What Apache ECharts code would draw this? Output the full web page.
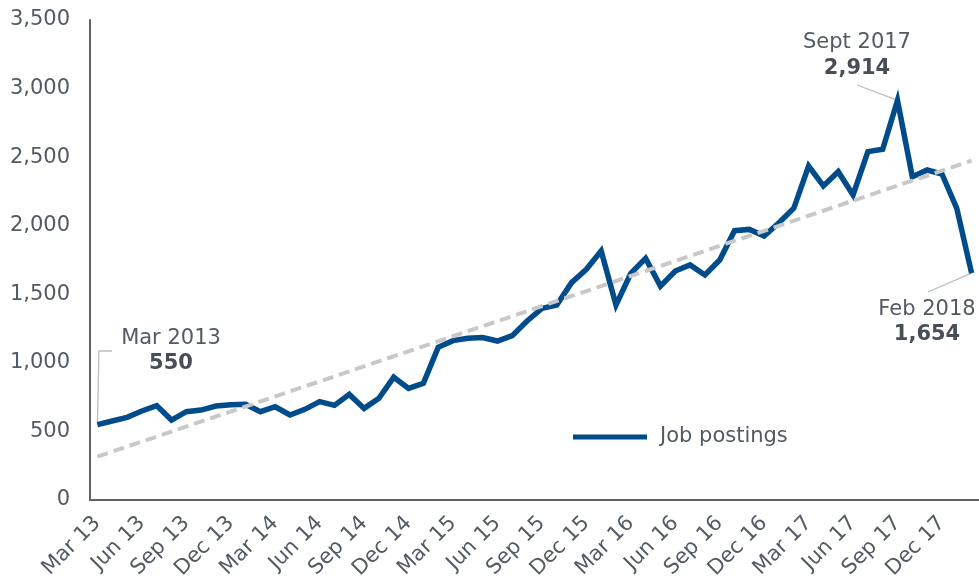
<!DOCTYPE html>
<html><head><meta charset="utf-8">
<script src="https://cdn.jsdelivr.net/npm/echarts@6/dist/echarts.min.js"></script>
<style>html,body{margin:0;padding:0;background:#fff}#c{width:979px;height:584px}</style>
</head><body><div id="c"></div>
<script>
const months = [
 'Mar 13','Apr 13','May 13','Jun 13','Jul 13','Aug 13','Sep 13','Oct 13','Nov 13','Dec 13','Jan 14','Feb 14',
 'Mar 14','Apr 14','May 14','Jun 14','Jul 14','Aug 14','Sep 14','Oct 14','Nov 14','Dec 14','Jan 15','Feb 15',
 'Mar 15','Apr 15','May 15','Jun 15','Jul 15','Aug 15','Sep 15','Oct 15','Nov 15','Dec 15','Jan 16','Feb 16',
 'Mar 16','Apr 16','May 16','Jun 16','Jul 16','Aug 16','Sep 16','Oct 16','Nov 16','Dec 16','Jan 17','Feb 17',
 'Mar 17','Apr 17','May 17','Jun 17','Jul 17','Aug 17','Sep 17','Oct 17','Nov 17','Dec 17','Jan 18','Feb 18'
];
const jobPostings = [
 550, 576, 603, 649, 688, 583, 644, 656, 685, 695, 698, 644,
 680, 620, 661, 717, 690, 770, 668, 741, 895, 814, 851, 1113,
 1162, 1179, 1184, 1159, 1198, 1305, 1397, 1422, 1585, 1682, 1816, 1422,
 1653, 1762, 1560, 1670, 1714, 1641, 1750, 1964, 1973, 1925, 2022, 2127,
 2435, 2290, 2394, 2224, 2540, 2557, 2914, 2357, 2406, 2377, 2127, 1654
];
const trendStartEnd = [316, 2475];
const yMin = 0, yMax = 3500, yStep = 500;
const annotations = [
 {index: 0,  title: 'Mar 2013'},
 {index: 54, title: 'Sept 2017'},
 {index: 59, title: 'Feb 2018'}
];

const TXT = '#525a63', BOLD = '#474e57', FONT = '"DejaVu Sans", Verdana, sans-serif';
const chart = echarts.init(document.getElementById('c'), null, {renderer: 'canvas'});
chart.setOption({
  animation: false,
  grid: {left: 90, top: 20, width: 897, height: 480, containLabel: false},
  legend: {
    data: [{name: 'Job postings', icon: 'rect'}],
    left: 573, top: 425, padding: 0, itemWidth: 74, itemHeight: 5,
    textStyle: {fontSize: 21, fontFamily: FONT, color: TXT, padding: [0, 0, 0, 8], lineHeight: 24}
  },
  xAxis: {
    type: 'category', data: months, boundaryGap: true,
    axisLine: {lineStyle: {color: '#5f656c', width: 2}},
    axisTick: {show: false},
    axisLabel: {interval: 2, rotate: 45, fontSize: 21, fontFamily: FONT, color: TXT, margin: 20}
  },
  yAxis: {
    type: 'value', min: yMin, max: yMax, interval: yStep,
    splitLine: {show: false},
    axisLine: {show: true, lineStyle: {color: '#5f656c', width: 2}},
    axisTick: {show: false},
    axisLabel: {fontSize: 21, fontFamily: FONT, color: TXT, margin: 20,
      formatter: v => v.toLocaleString('en-US')}
  },
  series: [{
    name: 'Job postings', type: 'line', data: jobPostings,
    symbol: 'none', clip: false,
    lineStyle: {color: '#004c8a', width: 5.5, join: 'miter'},
    itemStyle: {color: '#004c8a'},
    markLine: {
      silent: true, symbol: 'none', z: 5,
      label: {show: false},
      lineStyle: {color: '#c8c8c8', width: 4, type: [11, 6]},
      data: [[{coord: [months[0], trendStartEnd[0]]}, {coord: [months[months.length - 1], trendStartEnd[1]]}]]
    }
  }]
});

// annotations: texts + leader lines anchored at data points
const layout = {
  0:  {t: [171, 339], v: [171, 364], leader: p => [[p[0], p[1]], [p[0] + 1.5, 351], [112, 351]]},
  54: {t: [857, 43],  v: [857, 69],  leader: p => [[857, 85], [p[0], p[1]]]},
  59: {t: [927, 310], v: [927, 335], leader: p => [[928, 292], [p[0], p[1]]]}
};
const graphics = [];
annotations.forEach(a => {
  const p = chart.convertToPixel({seriesIndex: 0}, [a.index, jobPostings[a.index]]);
  const L = layout[a.index];
  graphics.push({type: 'polyline', silent: true, z: 1, shape: {points: L.leader(p)},
    style: {stroke: '#b9bfc5', lineWidth: 1.3, fill: null}});
  graphics.push({type: 'text', silent: true, style: {text: a.title, x: L.t[0], y: L.t[1],
    align: 'center', verticalAlign: 'middle', fontSize: 21, fontFamily: FONT, fill: TXT}});
  graphics.push({type: 'text', silent: true, style: {text: jobPostings[a.index].toLocaleString('en-US'),
    x: L.v[0], y: L.v[1], align: 'center', verticalAlign: 'middle', fontSize: 21, fontWeight: 'bold',
    fontFamily: FONT, fill: BOLD}});
});
chart.setOption({graphic: graphics});
</script></body></html>
